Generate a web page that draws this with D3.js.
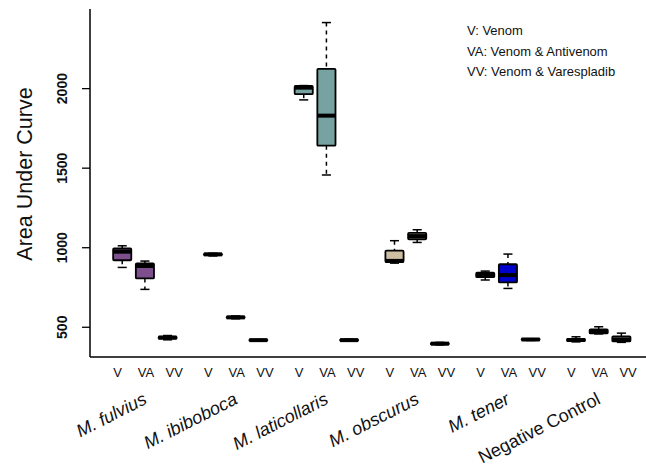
<!DOCTYPE html>
<html>
<head>
<meta charset="utf-8">
<script src="https://cdn.jsdelivr.net/npm/d3@7"></script>
<style>
  body { margin: 0; background: #fff; }
  svg { display: block; font-family: "Liberation Sans", Arial, sans-serif; }
</style>
</head>
<body>
<div id="chart"></div>
<script>
// groups and treatments
const species = ["M. fulvius", "M. ibiboboca", "M. laticollaris", "M. obscurus", "M. tener", "Negative Control"];
const italicSpecies = [true, true, true, true, true, false];
const treatments = ["V", "VA", "VV"];
const speciesColors = ["#7d4f8c", "#8c8c8c", "#76a2a2", "#cdbda2", "#0000cd", "#8c8c8c"];

// five number summaries, one per box (species x treatment, in order)
const whiskerLow = [873, 735, 418, 945, 550, 412, 1926, 1454, 410, 900, 1030, 386, 794, 741, 414, 405, 455, 402];
const quart1     = [918, 804, 425, 950, 555, 414, 1962, 1638, 413, 907, 1050, 390, 812, 779, 417, 410, 458, 408];
const medians    = [972, 882, 432, 955, 559, 416, 2003, 1827, 416, 914, 1070, 394, 826, 825, 420, 417, 470, 420];
const quart3     = [992, 899, 438, 960, 564, 418, 2014, 2121, 419, 978, 1090, 398, 840, 893, 423, 424, 484, 440];
const whiskerHigh = [1009, 913, 445, 962, 568, 420, 2016, 2412, 422, 1041, 1110, 402, 850, 957, 425, 437, 500, 460];

const yTicks = [500, 1000, 1500, 2000];
const legendLines = ["V: Venom", "VA: Venom & Antivenom", "VV: Venom & Varespladib"];

const W = 646, H = 468;
const svg = d3.select("#chart").append("svg")
    .attr("width", W)
    .attr("height", H);

// positions 1,2,3, 5,6,7, ... like boxplot(at=...)
const x = d3.scaleLinear().domain([-0.42, 24.42]).range([90, 653.6]);
const y = d3.scaleLinear().domain([310, 2491]).range([357, 10]);
const unit = x(1) - x(0);
const boxW = 0.8 * unit;
const capW = boxW / 2;

const boxes = [];
species.forEach((s, g) => {
  treatments.forEach((t, i) => {
    const k = g * 3 + i;
    boxes.push({
      pos: g * 4 + i + 1,
      color: speciesColors[g],
      lo: whiskerLow[k], q1: quart1[k], med: medians[k], q3: quart3[k], hi: whiskerHigh[k]
    });
  });
});

// frame (bty = "l")
svg.append("line")
    .attr("x1", 90).attr("x2", 90)
    .attr("y1", 9).attr("y2", 357)
    .attr("stroke", "#000").attr("stroke-width", 1.5);
svg.append("line")
    .attr("x1", 90).attr("x2", W)
    .attr("y1", 357).attr("y2", 357)
    .attr("stroke", "#000").attr("stroke-width", 1.5);

// y axis
const yAxis = svg.append("g")
    .attr("transform", "translate(90,0)")
    .call(d3.axisLeft(y).tickValues(yTicks).tickSize(8).tickFormat(d3.format("d")));
yAxis.select(".domain").remove();
yAxis.selectAll(".tick line").attr("stroke-width", 1.3);
yAxis.selectAll(".tick text")
    .attr("transform", "rotate(-90)")
    .attr("x", 0).attr("y", -23.5).attr("dy", 0)
    .attr("text-anchor", "middle")
    .attr("font-size", 14)
    .attr("font-weight", "bold")
    .attr("font-family", "Liberation Sans, Arial, sans-serif")
    .attr("fill", "#111");

svg.append("text")
    .attr("transform", "translate(32,174) rotate(-90)")
    .attr("text-anchor", "middle")
    .attr("font-size", 21.5)
    .attr("fill", "#111")
    .text("Area Under Curve");

// boxplots
const bx = svg.append("g").selectAll("g").data(boxes).join("g");

bx.append("line")
    .attr("x1", d => x(d.pos)).attr("x2", d => x(d.pos))
    .attr("y1", d => y(d.hi)).attr("y2", d => y(d.q3))
    .attr("stroke", "#000").attr("stroke-width", 1.5).attr("stroke-dasharray", "4,4");
bx.append("line")
    .attr("x1", d => x(d.pos)).attr("x2", d => x(d.pos))
    .attr("y1", d => y(d.q1)).attr("y2", d => y(d.lo))
    .attr("stroke", "#000").attr("stroke-width", 1.5).attr("stroke-dasharray", "4,4");
bx.append("line")
    .attr("x1", d => x(d.pos) - capW / 2).attr("x2", d => x(d.pos) + capW / 2)
    .attr("y1", d => y(d.hi)).attr("y2", d => y(d.hi))
    .attr("stroke", "#000").attr("stroke-width", 1.5);
bx.append("line")
    .attr("x1", d => x(d.pos) - capW / 2).attr("x2", d => x(d.pos) + capW / 2)
    .attr("y1", d => y(d.lo)).attr("y2", d => y(d.lo))
    .attr("stroke", "#000").attr("stroke-width", 1.5);
bx.append("rect")
    .attr("x", d => x(d.pos) - boxW / 2)
    .attr("width", boxW)
    .attr("y", d => y(d.q3))
    .attr("height", d => y(d.q1) - y(d.q3))
    .attr("fill", d => d.color)
    .attr("stroke", "#000").attr("stroke-width", 1.8)
    .attr("rx", 1);
bx.append("line")
    .attr("x1", d => x(d.pos) - boxW / 2).attr("x2", d => x(d.pos) + boxW / 2)
    .attr("y1", d => y(d.med)).attr("y2", d => y(d.med))
    .attr("stroke", "#000").attr("stroke-width", 4);

// treatment labels under each group (spaced a bit wider than the boxes)
species.forEach((s, g) => {
  const centre = g * 4 + 2;
  treatments.forEach((t, i) => {
    svg.append("text")
        .attr("x", x(centre + (i - 1) * 1.25) + 1)
        .attr("y", 377)
        .attr("text-anchor", "middle")
        .attr("font-size", 13)
        .attr("fill", "#111")
        .text(t);
  });
  svg.append("text")
      .attr("transform", `translate(${x(centre) + 3},403) rotate(-27)`)
      .attr("text-anchor", "end")
      .attr("font-size", 18)
      .attr("font-style", italicSpecies[g] ? "italic" : "normal")
      .attr("fill", "#111")
      .text(s);
});

// legend text
svg.append("g").selectAll("text").data(legendLines).join("text")
    .attr("x", 467)
    .attr("y", (d, i) => 35 + i * 20.5)
    .attr("font-size", 13)
    .attr("fill", "#111")
    .text(d => d);
</script>
</body>
</html>
